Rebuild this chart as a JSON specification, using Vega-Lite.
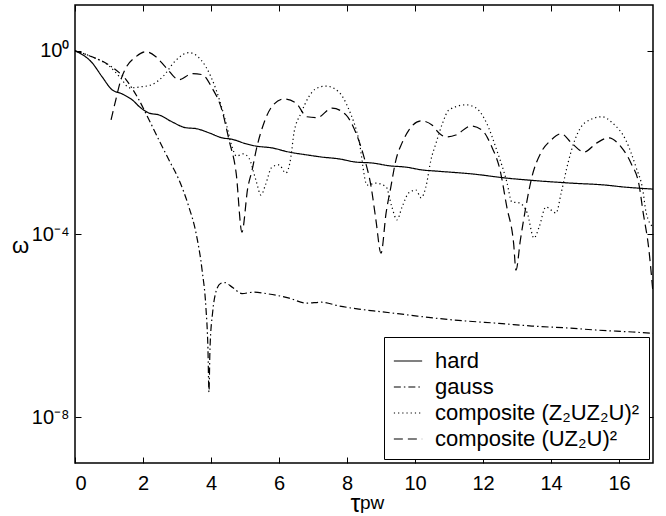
{
  "$schema": "https://vega.github.io/schema/vega-lite/v6.json",
  "width": 578,
  "height": 458,
  "autosize": {"type": "none"},
  "padding": {"left": 75, "top": 5, "right": 13, "bottom": 53},
  "background": "white",
  "config": {
    "view": {"stroke": "black", "strokeWidth": 1.5},
    "font": "Liberation Sans",
    "axis": {"grid": false, "domain": false, "tickColor": "black", "labelColor": "black", "titleColor": "black", "labelFont": "Liberation Sans", "titleFont": "Liberation Sans"}
  },
  "datasets": {
    "curves": [
      {"s": "hard", "x": 0, "y": 1},
      {"s": "hard", "x": 0.5, "y": 0.55},
      {"s": "hard", "x": 0.8, "y": 0.269},
      {"s": "hard", "x": 1.09, "y": 0.141},
      {"s": "hard", "x": 1.38, "y": 0.115},
      {"s": "hard", "x": 1.68, "y": 0.0851},
      {"s": "hard", "x": 1.94, "y": 0.0562},
      {"s": "hard", "x": 2.18, "y": 0.0437},
      {"s": "hard", "x": 2.47, "y": 0.0398},
      {"s": "hard", "x": 2.85, "y": 0.0282},
      {"s": "hard", "x": 3.26, "y": 0.0209},
      {"s": "hard", "x": 3.56, "y": 0.02},
      {"s": "hard", "x": 3.94, "y": 0.0162},
      {"s": "hard", "x": 4.32, "y": 0.0126},
      {"s": "hard", "x": 4.62, "y": 0.0117},
      {"s": "hard", "x": 5.03, "y": 0.00933},
      {"s": "hard", "x": 5.32, "y": 0.00832},
      {"s": "hard", "x": 5.79, "y": 0.00759},
      {"s": "hard", "x": 6.29, "y": 0.00617},
      {"s": "hard", "x": 6.79, "y": 0.00537},
      {"s": "hard", "x": 7.26, "y": 0.00479},
      {"s": "hard", "x": 7.76, "y": 0.00437},
      {"s": "hard", "x": 8.26, "y": 0.00372},
      {"s": "hard", "x": 8.74, "y": 0.00355},
      {"s": "hard", "x": 9.24, "y": 0.00309},
      {"s": "hard", "x": 9.74, "y": 0.00288},
      {"s": "hard", "x": 10.2, "y": 0.00251},
      {"s": "hard", "x": 10.7, "y": 0.00234},
      {"s": "hard", "x": 11.7, "y": 0.00204},
      {"s": "hard", "x": 12.7, "y": 0.00166},
      {"s": "hard", "x": 13.6, "y": 0.00145},
      {"s": "hard", "x": 14.6, "y": 0.00129},
      {"s": "hard", "x": 15.6, "y": 0.00117},
      {"s": "hard", "x": 16.1, "y": 0.00107},
      {"s": "hard", "x": 17, "y": 0.000955},

      {"s": "gauss", "x": 0, "y": 1},
      {"s": "gauss", "x": 0.5, "y": 0.741},
      {"s": "gauss", "x": 1.0, "y": 0.49},
      {"s": "gauss", "x": 1.5, "y": 0.234},
      {"s": "gauss", "x": 1.88, "y": 0.0851},
      {"s": "gauss", "x": 2.18, "y": 0.0309},
      {"s": "gauss", "x": 2.47, "y": 0.0112},
      {"s": "gauss", "x": 2.76, "y": 0.00417},
      {"s": "gauss", "x": 3.06, "y": 0.00151},
      {"s": "gauss", "x": 3.35, "y": 0.000389},
      {"s": "gauss", "x": 3.56, "y": 0.000105},
      {"s": "gauss", "x": 3.74, "y": 1.58e-5},
      {"s": "gauss", "x": 3.85, "y": 2.51e-6},
      {"s": "gauss", "x": 3.91, "y": 3.16e-7},
      {"s": "gauss", "x": 3.94, "y": 3.55e-8},
      {"s": "gauss", "x": 3.97, "y": 3.16e-7},
      {"s": "gauss", "x": 4.05, "y": 2.0e-6},
      {"s": "gauss", "x": 4.15, "y": 5.62e-6},
      {"s": "gauss", "x": 4.28, "y": 8.32e-6},
      {"s": "gauss", "x": 4.4, "y": 8.71e-6},
      {"s": "gauss", "x": 4.62, "y": 6.92e-6},
      {"s": "gauss", "x": 4.91, "y": 5.01e-6},
      {"s": "gauss", "x": 5.26, "y": 5.37e-6},
      {"s": "gauss", "x": 5.7, "y": 4.9e-6},
      {"s": "gauss", "x": 6.3, "y": 3.98e-6},
      {"s": "gauss", "x": 6.8, "y": 3.09e-6},
      {"s": "gauss", "x": 7.26, "y": 3.24e-6},
      {"s": "gauss", "x": 7.76, "y": 2.69e-6},
      {"s": "gauss", "x": 8.35, "y": 2.29e-6},
      {"s": "gauss", "x": 9.03, "y": 2.0e-6},
      {"s": "gauss", "x": 9.82, "y": 1.7e-6},
      {"s": "gauss", "x": 10.6, "y": 1.45e-6},
      {"s": "gauss", "x": 11.5, "y": 1.26e-6},
      {"s": "gauss", "x": 12.47, "y": 1.12e-6},
      {"s": "gauss", "x": 13.44, "y": 9.77e-7},
      {"s": "gauss", "x": 14.44, "y": 8.91e-7},
      {"s": "gauss", "x": 15.4, "y": 7.94e-7},
      {"s": "gauss", "x": 16.4, "y": 7.24e-7},
      {"s": "gauss", "x": 17, "y": 6.76e-7},

      {"s": "composite (Z₂UZ₂U)²", "x": 0, "y": 1},
      {"s": "composite (Z₂UZ₂U)²", "x": 0.5, "y": 0.741},
      {"s": "composite (Z₂UZ₂U)²", "x": 1.0, "y": 0.468},
      {"s": "composite (Z₂UZ₂U)²", "x": 1.35, "y": 0.251},
      {"s": "composite (Z₂UZ₂U)²", "x": 1.6, "y": 0.155},
      {"s": "composite (Z₂UZ₂U)²", "x": 1.9, "y": 0.162},
      {"s": "composite (Z₂UZ₂U)²", "x": 2.26, "y": 0.182},
      {"s": "composite (Z₂UZ₂U)²", "x": 2.6, "y": 0.282},
      {"s": "composite (Z₂UZ₂U)²", "x": 2.95, "y": 0.603},
      {"s": "composite (Z₂UZ₂U)²", "x": 3.35, "y": 0.912},
      {"s": "composite (Z₂UZ₂U)²", "x": 3.6, "y": 0.759},
      {"s": "composite (Z₂UZ₂U)²", "x": 3.85, "y": 0.447},
      {"s": "composite (Z₂UZ₂U)²", "x": 4.15, "y": 0.141},
      {"s": "composite (Z₂UZ₂U)²", "x": 4.44, "y": 0.0269},
      {"s": "composite (Z₂UZ₂U)²", "x": 4.62, "y": 0.00794},
      {"s": "composite (Z₂UZ₂U)²", "x": 4.75, "y": 0.00501},
      {"s": "composite (Z₂UZ₂U)²", "x": 4.95, "y": 0.00562},
      {"s": "composite (Z₂UZ₂U)²", "x": 5.12, "y": 0.00447},
      {"s": "composite (Z₂UZ₂U)²", "x": 5.32, "y": 0.00151},
      {"s": "composite (Z₂UZ₂U)²", "x": 5.47, "y": 0.000708},
      {"s": "composite (Z₂UZ₂U)²", "x": 5.6, "y": 0.00117},
      {"s": "composite (Z₂UZ₂U)²", "x": 5.79, "y": 0.00288},
      {"s": "composite (Z₂UZ₂U)²", "x": 6.0, "y": 0.00324},
      {"s": "composite (Z₂UZ₂U)²", "x": 6.2, "y": 0.00214},
      {"s": "composite (Z₂UZ₂U)²", "x": 6.35, "y": 0.00479},
      {"s": "composite (Z₂UZ₂U)²", "x": 6.44, "y": 0.0162},
      {"s": "composite (Z₂UZ₂U)²", "x": 6.65, "y": 0.0437},
      {"s": "composite (Z₂UZ₂U)²", "x": 6.88, "y": 0.1},
      {"s": "composite (Z₂UZ₂U)²", "x": 7.1, "y": 0.151},
      {"s": "composite (Z₂UZ₂U)²", "x": 7.38, "y": 0.17},
      {"s": "composite (Z₂UZ₂U)²", "x": 7.76, "y": 0.126},
      {"s": "composite (Z₂UZ₂U)²", "x": 8.06, "y": 0.0513},
      {"s": "composite (Z₂UZ₂U)²", "x": 8.35, "y": 0.0112},
      {"s": "composite (Z₂UZ₂U)²", "x": 8.59, "y": 0.00117},
      {"s": "composite (Z₂UZ₂U)²", "x": 8.85, "y": 0.00129},
      {"s": "composite (Z₂UZ₂U)²", "x": 9.15, "y": 0.00107},
      {"s": "composite (Z₂UZ₂U)²", "x": 9.32, "y": 0.000389},
      {"s": "composite (Z₂UZ₂U)²", "x": 9.47, "y": 0.000204},
      {"s": "composite (Z₂UZ₂U)²", "x": 9.62, "y": 0.000389},
      {"s": "composite (Z₂UZ₂U)²", "x": 9.82, "y": 0.000794},
      {"s": "composite (Z₂UZ₂U)²", "x": 10.03, "y": 0.000912},
      {"s": "composite (Z₂UZ₂U)²", "x": 10.18, "y": 0.000617},
      {"s": "composite (Z₂UZ₂U)²", "x": 10.32, "y": 0.00107},
      {"s": "composite (Z₂UZ₂U)²", "x": 10.47, "y": 0.00417},
      {"s": "composite (Z₂UZ₂U)²", "x": 10.62, "y": 0.00977},
      {"s": "composite (Z₂UZ₂U)²", "x": 10.8, "y": 0.0251},
      {"s": "composite (Z₂UZ₂U)²", "x": 11.0, "y": 0.0513},
      {"s": "composite (Z₂UZ₂U)²", "x": 11.5, "y": 0.0661},
      {"s": "composite (Z₂UZ₂U)²", "x": 11.8, "y": 0.0562},
      {"s": "composite (Z₂UZ₂U)²", "x": 12.1, "y": 0.0269},
      {"s": "composite (Z₂UZ₂U)²", "x": 12.4, "y": 0.00692},
      {"s": "composite (Z₂UZ₂U)²", "x": 12.7, "y": 0.00138},
      {"s": "composite (Z₂UZ₂U)²", "x": 12.85, "y": 0.000501},
      {"s": "composite (Z₂UZ₂U)²", "x": 13.06, "y": 0.000479},
      {"s": "composite (Z₂UZ₂U)²", "x": 13.3, "y": 0.000288},
      {"s": "composite (Z₂UZ₂U)²", "x": 13.5, "y": 8.13e-5},
      {"s": "composite (Z₂UZ₂U)²", "x": 13.65, "y": 0.000141},
      {"s": "composite (Z₂UZ₂U)²", "x": 13.85, "y": 0.000389},
      {"s": "composite (Z₂UZ₂U)²", "x": 14.15, "y": 0.000288},
      {"s": "composite (Z₂UZ₂U)²", "x": 14.3, "y": 0.000794},
      {"s": "composite (Z₂UZ₂U)²", "x": 14.5, "y": 0.00355},
      {"s": "composite (Z₂UZ₂U)²", "x": 14.7, "y": 0.0112},
      {"s": "composite (Z₂UZ₂U)²", "x": 15.0, "y": 0.0269},
      {"s": "composite (Z₂UZ₂U)²", "x": 15.5, "y": 0.0363},
      {"s": "composite (Z₂UZ₂U)²", "x": 15.8, "y": 0.0269},
      {"s": "composite (Z₂UZ₂U)²", "x": 16.2, "y": 0.0112},
      {"s": "composite (Z₂UZ₂U)²", "x": 16.5, "y": 0.00288},
      {"s": "composite (Z₂UZ₂U)²", "x": 16.7, "y": 0.000912},
      {"s": "composite (Z₂UZ₂U)²", "x": 16.8, "y": 0.000288},
      {"s": "composite (Z₂UZ₂U)²", "x": 17, "y": 0.000141},

      {"s": "composite (UZ₂U)²", "x": 1.06, "y": 0.0309},
      {"s": "composite (UZ₂U)²", "x": 1.2, "y": 0.0851},
      {"s": "composite (UZ₂U)²", "x": 1.35, "y": 0.234},
      {"s": "composite (UZ₂U)²", "x": 1.5, "y": 0.427},
      {"s": "composite (UZ₂U)²", "x": 1.79, "y": 0.741},
      {"s": "composite (UZ₂U)²", "x": 2.09, "y": 0.955},
      {"s": "composite (UZ₂U)²", "x": 2.38, "y": 0.741},
      {"s": "composite (UZ₂U)²", "x": 2.68, "y": 0.427},
      {"s": "composite (UZ₂U)²", "x": 3.06, "y": 0.234},
      {"s": "composite (UZ₂U)²", "x": 3.44, "y": 0.316},
      {"s": "composite (UZ₂U)²", "x": 3.74, "y": 0.302},
      {"s": "composite (UZ₂U)²", "x": 4.03, "y": 0.155},
      {"s": "composite (UZ₂U)²", "x": 4.32, "y": 0.0513},
      {"s": "composite (UZ₂U)²", "x": 4.53, "y": 0.0112},
      {"s": "composite (UZ₂U)²", "x": 4.74, "y": 0.00214},
      {"s": "composite (UZ₂U)²", "x": 4.91, "y": 0.00011},
      {"s": "composite (UZ₂U)²", "x": 5.08, "y": 0.001},
      {"s": "composite (UZ₂U)²", "x": 5.21, "y": 0.00251},
      {"s": "composite (UZ₂U)²", "x": 5.35, "y": 0.00794},
      {"s": "composite (UZ₂U)²", "x": 5.56, "y": 0.0269},
      {"s": "composite (UZ₂U)²", "x": 5.79, "y": 0.0603},
      {"s": "composite (UZ₂U)²", "x": 6.15, "y": 0.0891},
      {"s": "composite (UZ₂U)²", "x": 6.5, "y": 0.0724},
      {"s": "composite (UZ₂U)²", "x": 6.82, "y": 0.0363},
      {"s": "composite (UZ₂U)²", "x": 7.12, "y": 0.0347},
      {"s": "composite (UZ₂U)²", "x": 7.56, "y": 0.0562},
      {"s": "composite (UZ₂U)²", "x": 7.97, "y": 0.0398},
      {"s": "composite (UZ₂U)²", "x": 8.26, "y": 0.0162},
      {"s": "composite (UZ₂U)²", "x": 8.5, "y": 0.00479},
      {"s": "composite (UZ₂U)²", "x": 8.71, "y": 0.00107},
      {"s": "composite (UZ₂U)²", "x": 8.85, "y": 0.000204},
      {"s": "composite (UZ₂U)²", "x": 9.0, "y": 3.8e-5},
      {"s": "composite (UZ₂U)²", "x": 9.15, "y": 0.000288},
      {"s": "composite (UZ₂U)²", "x": 9.29, "y": 0.00107},
      {"s": "composite (UZ₂U)²", "x": 9.44, "y": 0.00417},
      {"s": "composite (UZ₂U)²", "x": 9.62, "y": 0.00977},
      {"s": "composite (UZ₂U)²", "x": 9.82, "y": 0.0186},
      {"s": "composite (UZ₂U)²", "x": 10.18, "y": 0.0295},
      {"s": "composite (UZ₂U)²", "x": 10.5, "y": 0.024},
      {"s": "composite (UZ₂U)²", "x": 10.7, "y": 0.0162},
      {"s": "composite (UZ₂U)²", "x": 10.9, "y": 0.0132},
      {"s": "composite (UZ₂U)²", "x": 11.2, "y": 0.0145},
      {"s": "composite (UZ₂U)²", "x": 11.65, "y": 0.0229},
      {"s": "composite (UZ₂U)²", "x": 11.97, "y": 0.0186},
      {"s": "composite (UZ₂U)²", "x": 12.26, "y": 0.00794},
      {"s": "composite (UZ₂U)²", "x": 12.5, "y": 0.00251},
      {"s": "composite (UZ₂U)²", "x": 12.7, "y": 0.000389},
      {"s": "composite (UZ₂U)²", "x": 12.9, "y": 6.31e-5},
      {"s": "composite (UZ₂U)²", "x": 12.97, "y": 1.62e-5},
      {"s": "composite (UZ₂U)²", "x": 13.1, "y": 7.41e-5},
      {"s": "composite (UZ₂U)²", "x": 13.26, "y": 0.000389},
      {"s": "composite (UZ₂U)²", "x": 13.44, "y": 0.00178},
      {"s": "composite (UZ₂U)²", "x": 13.7, "y": 0.00589},
      {"s": "composite (UZ₂U)²", "x": 14.0, "y": 0.0112},
      {"s": "composite (UZ₂U)²", "x": 14.3, "y": 0.0155},
      {"s": "composite (UZ₂U)²", "x": 14.6, "y": 0.00977},
      {"s": "composite (UZ₂U)²", "x": 14.97, "y": 0.00617},
      {"s": "composite (UZ₂U)²", "x": 15.35, "y": 0.00977},
      {"s": "composite (UZ₂U)²", "x": 15.7, "y": 0.0126},
      {"s": "composite (UZ₂U)²", "x": 16.06, "y": 0.00794},
      {"s": "composite (UZ₂U)²", "x": 16.35, "y": 0.00355},
      {"s": "composite (UZ₂U)²", "x": 16.6, "y": 0.00107},
      {"s": "composite (UZ₂U)²", "x": 16.7, "y": 0.000331},
      {"s": "composite (UZ₂U)²", "x": 16.88, "y": 4.47e-5},
      {"s": "composite (UZ₂U)²", "x": 17, "y": 5.13e-6}
    ],
    "sub": [{"t": "pw"}]
  },
  "layer": [
    {
      "data": {"name": "curves"},
      "mark": {"type": "line", "color": "black", "strokeWidth": 1.2, "interpolate": "monotone", "clip": true},
      "encoding": {
        "x": {"field": "x", "type": "quantitative", "scale": {"domain": [0, 17], "nice": false, "zero": false},
          "axis": {"orient": "bottom", "values": [0, 2, 4, 6, 8, 10, 12, 14, 16], "tickSize": -6, "labelPadding": 16, "labelFontSize": 20, "title": "τ", "titleFontSize": 25, "titleFontWeight": "normal", "titlePadding": -2, "titleX": 280}},
        "y": {"field": "y", "type": "quantitative", "scale": {"type": "log", "domain": [1e-9, 10], "nice": false},
          "axis": {"orient": "left", "values": [1e-8, 0.0001, 1], "tickSize": -6, "labelPadding": 12, "labelFontSize": 20,
            "labelExpr": "'10' + (datum.value >= 0.5 ? '⁰' : datum.value > 1e-6 ? '⁻⁴' : '⁻⁸')",
            "title": "ω", "titleAngle": 0, "titleFontSize": 22, "titleFontWeight": "normal", "titleX": -55, "titleY": 240, "titleAlign": "center", "titleBaseline": "middle"}},
        "strokeDash": {"field": "s", "type": "nominal",
          "scale": {"domain": ["hard", "gauss", "composite (Z₂UZ₂U)²", "composite (UZ₂U)²"], "range": [[1, 0], [7, 3, 1.5, 3], [1.2, 3], [9, 5]]},
          "legend": {"title": null, "orient": "bottom-right", "offset": 4, "strokeColor": "black", "fillColor": "white", "padding": 9, "symbolType": "stroke", "symbolSize": 800, "symbolStrokeWidth": 1.2, "symbolStrokeColor": "black", "labelFontSize": 22, "labelFont": "Liberation Sans", "labelColor": "black", "rowPadding": 0, "labelOffset": 12, "labelLimit": 400}}
      }
    },
    {
      "data": {"name": "curves"},
      "mark": {"type": "line", "opacity": 0},
      "encoding": {
        "x": {"field": "x", "type": "quantitative", "axis": {"orient": "top", "values": [0, 2, 4, 6, 8, 10, 12, 14, 16], "tickSize": -6, "labels": false, "title": null}},
        "y": {"field": "y", "type": "quantitative", "axis": {"orient": "right", "values": [1e-8, 0.0001, 1], "tickSize": -6, "labels": false, "title": null}},
        "detail": {"field": "s"}
      }
    },
    {
      "data": {"name": "sub"},
      "mark": {"type": "text", "fontSize": 19, "font": "Liberation Sans", "align": "left", "baseline": "alphabetic", "color": "black"},
      "encoding": {
        "x": {"datum": 8.38, "type": "quantitative", "axis": null},
        "y": {"datum": 1.0e-10, "type": "quantitative", "axis": null},
        "text": {"field": "t"}
      }
    }
  ],
  "resolve": {"axis": {"x": "independent", "y": "independent"}}
}
